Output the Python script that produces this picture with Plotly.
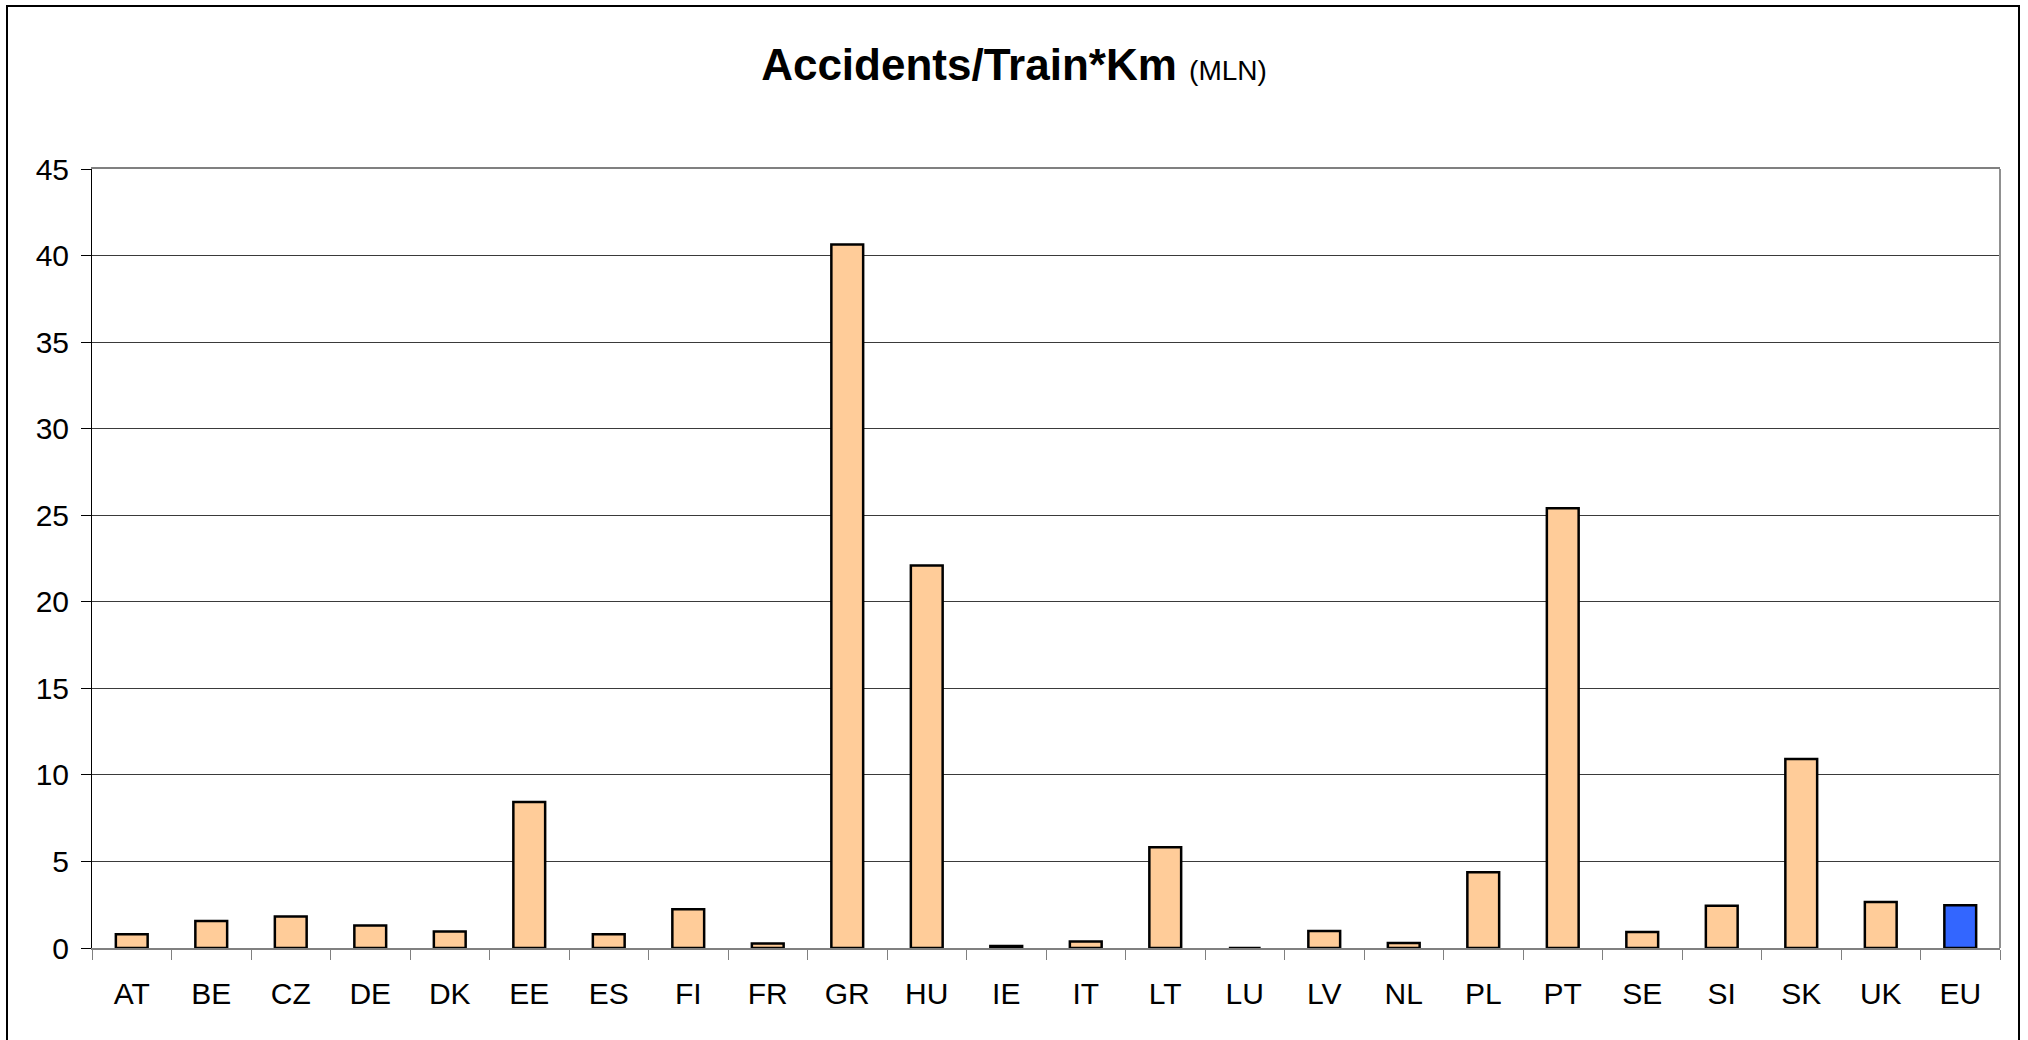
import plotly.graph_objects as go

countries = ["AT", "BE", "CZ", "DE", "DK", "EE", "ES", "FI", "FR", "GR", "HU", "IE",
             "IT", "LT", "LU", "LV", "NL", "PL", "PT", "SE", "SI", "SK", "UK", "EU"]
values = [0.8, 1.56, 1.82, 1.3, 0.95, 8.44, 0.8, 2.24, 0.26, 40.64, 22.1, 0.12,
          0.37, 5.82, 0.0, 0.98, 0.29, 4.37, 25.4, 0.92, 2.44, 10.92, 2.66, 2.47]
y_ticks = [0, 5, 10, 15, 20, 25, 30, 35, 40, 45]

COUNTRY_COLOR = "#FFCC99"
EU_COLOR = "#3366FF"
colors = [EU_COLOR if c == "EU" else COUNTRY_COLOR for c in countries]

W, H = 2028, 1040
L, R, T, B = 92, 28, 169, 92
pw, ph = W - L - R, H - T - B

def px_x(x):
    return (x - L) / pw

def px_y(y):
    return (H - B - y) / ph

FONT = "Liberation Sans, Arial, sans-serif"

fig = go.Figure(go.Bar(
    x=countries, y=values,
    marker=dict(color=colors, line=dict(color="black", width=2.5)),
    width=0.4,
))

fig.update_layout(
    width=W, height=H,
    margin=dict(l=L, r=R, t=T, b=B, pad=0),
    paper_bgcolor="white", plot_bgcolor="white",
    font=dict(family=FONT, size=30, color="black"),
    showlegend=False,
    title=dict(
        text="<b>Accidents/Train*Km</b> <span style='font-size:28px'>(MLN)</span>",
        font=dict(family=FONT, size=44, color="black"),
        x=0.5, xanchor="center", xref="container",
        y=1 - 65 / H, yanchor="middle", yref="container",
    ),
    xaxis=dict(
        type="category",
        showline=True, linecolor="#808080", linewidth=1.5, mirror=True,
        ticks="outside", ticklen=10, tickcolor="#808080", tickwidth=1,
        tickson="boundaries",
        showgrid=False,
        tickfont=dict(family=FONT, size=30, color="black"),
        ticklabelstandoff=18,
        range=[-0.5, len(countries) - 0.5],
    ),
    yaxis=dict(
        range=[0, 45], tickvals=y_ticks,
        showline=True, linecolor="black", linewidth=1,
        ticks="outside", ticklen=10, tickcolor="black", tickwidth=1,
        showgrid=True, gridcolor="#3a3a3a", gridwidth=1.3,
        zeroline=False,
        tickfont=dict(family=FONT, size=30, color="black"),
        ticklabelstandoff=6,
    ),
    shapes=[
        dict(type="line", xref="paper", yref="paper", x0=1, x1=1, y0=0, y1=1,
             line=dict(color="#909090", width=2)),
        dict(type="rect", xref="paper", yref="paper",
             x0=px_x(7), x1=px_x(2019), y0=px_y(1045), y1=px_y(6),
             line=dict(color="black", width=2), fillcolor="rgba(0,0,0,0)",
             layer="below"),
    ],
)

fig.write_html("out.html", config={"displayModeBar": False},
               post_script="document.body.style.margin='0';document.body.style.padding='0';")
